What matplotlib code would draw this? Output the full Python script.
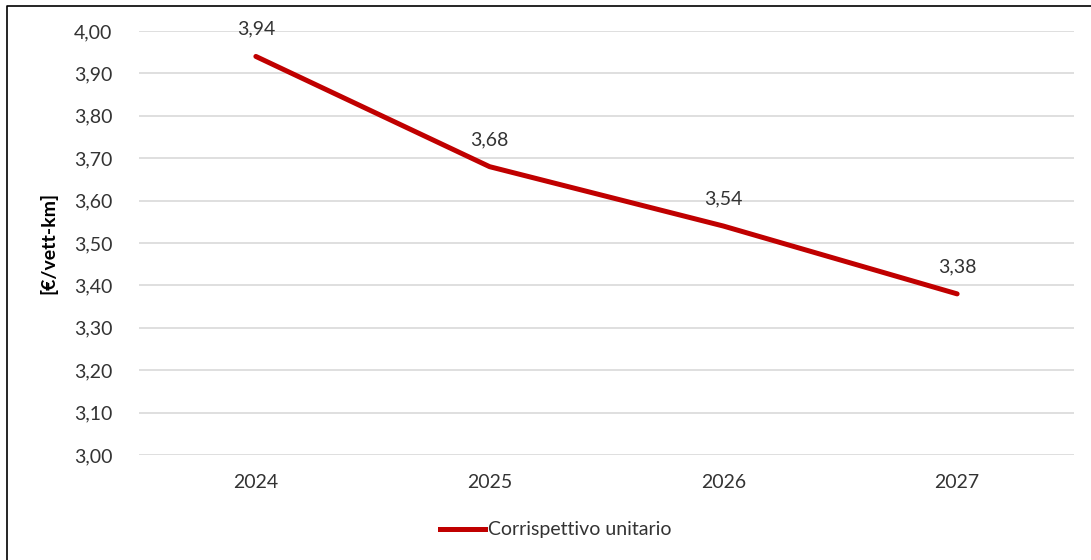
import matplotlib
matplotlib.use("Agg")
import matplotlib.pyplot as plt
from matplotlib.lines import Line2D

plt.rcParams['font.family'] = ['Lato', 'DejaVu Sans']

years = ["2024", "2025", "2026", "2027"]
values = [3.94, 3.68, 3.54, 3.38]
value_labels = ["3,94", "3,68", "3,54", "3,38"]
series_name = "Corrispettivo unitario"
y_ticks = [3.00, 3.10, 3.20, 3.30, 3.40, 3.50, 3.60, 3.70, 3.80, 3.90, 4.00]

W, H = 1091, 560
fig = plt.figure(figsize=(W / 100, H / 100), dpi=100)
fig.patch.set_facecolor("white")

text_color = "#333333"
fs = 14

# plot area in pixel coordinates
left, right, top, bottom = 139, 1074, 31, 455
ax = fig.add_axes([left / W, 1 - bottom / H, (right - left) / W, (bottom - top) / H])

x = list(range(len(years)))
line_color = "#C00000"
ax.plot(x, values, color=line_color, lw=3.6, solid_capstyle="round", zorder=3)

for xi, v, lab in zip(x, values, value_labels):
    ax.annotate(lab, (xi, v), xytext=(0, 19.5), textcoords="offset points",
                ha="center", va="center", fontsize=fs, color=text_color)

ax.set_xlim(-0.5, len(years) - 0.5)
ax.set_ylim(3.0, 4.0)
ax.set_yticks(y_ticks)
ax.set_yticklabels([f"{t:.2f}".replace(".", ",") for t in y_ticks])
ax.set_xticks(x)
ax.set_xticklabels(years)
ax.tick_params(axis="both", length=0, labelsize=fs, colors=text_color)
ax.tick_params(axis="y", pad=19)
ax.tick_params(axis="x", pad=14)
ax.grid(axis="y", color="#D9D9D9", lw=1.2)
ax.set_axisbelow(True)
for s in ax.spines.values():
    s.set_visible(False)

ax.set_ylabel("[€/vett-km]", fontsize=fs, fontweight="bold", color="#000000", labelpad=12)

leg_handle = Line2D([], [], color=line_color, lw=3.6)
fig.legend([leg_handle], [series_name], loc="center", bbox_to_anchor=(556 / W, 1 - 530 / H),
           frameon=False, fontsize=fs, handlelength=2.3, handletextpad=0.15,
           labelcolor=text_color)

# outer frame (top and left edges)
fig.add_artist(Line2D([7 / W, 7 / W, 1.0], [0.0, 1 - 6 / H, 1 - 6 / H],
                      transform=fig.transFigure, color="black", lw=1.2))

fig.savefig("out.png", dpi=100, facecolor="white")
